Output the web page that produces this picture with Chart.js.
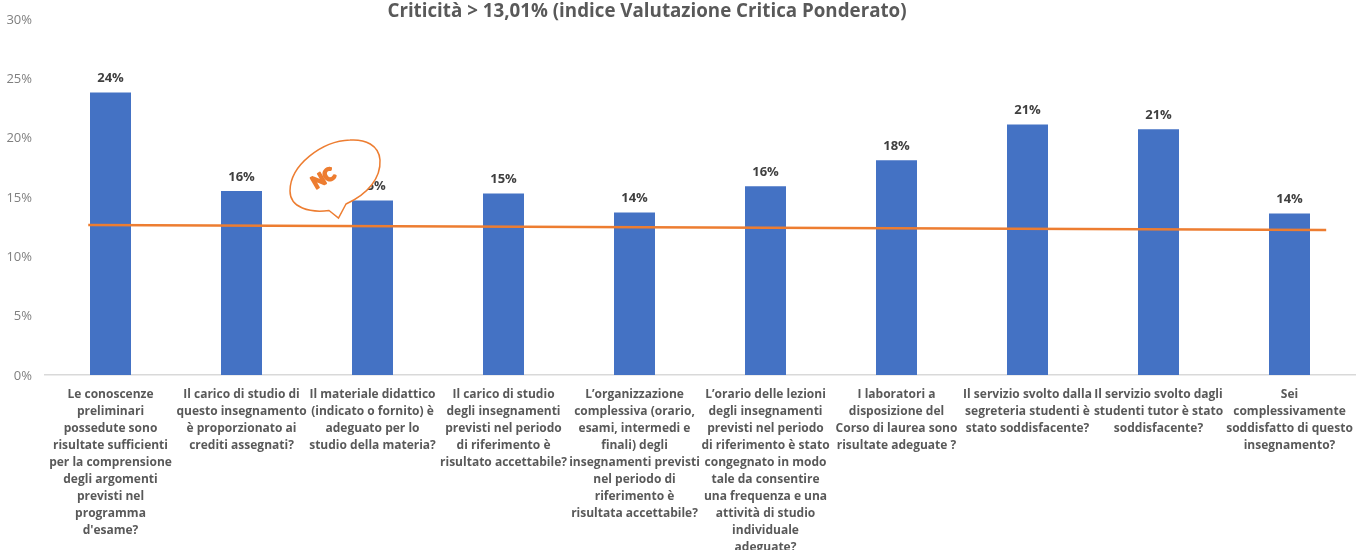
<!DOCTYPE html>
<html><head><meta charset="utf-8">
<style>html,body{margin:0;padding:0;background:#fff;overflow:hidden}canvas{display:block}</style>
<script src="https://cdn.jsdelivr.net/npm/chart.js@4"></script>
</head><body><canvas id="c" width="1356" height="550"></canvas>
<script>
const titleText = "Criticità > 13,01% (indice Valutazione Critica Ponderato)";
const categories = [
 ["Le conoscenze","preliminari","possedute sono","risultate sufficienti","per la comprensione","degli argomenti","previsti nel","programma","d'esame?"],
 ["Il carico di studio di","questo insegnamento","è proporzionato ai","crediti assegnati?"],
 ["Il materiale didattico","(indicato o fornito) è","adeguato per lo","studio della materia?"],
 ["Il carico di studio","degli insegnamenti","previsti nel periodo","di riferimento è","risultato accettabile?"],
 ["L’organizzazione","complessiva (orario,","esami, intermedi e","finali) degli","insegnamenti previsti","nel periodo di","riferimento è","risultata accettabile?"],
 ["L’orario delle lezioni","degli insegnamenti","previsti nel periodo","di riferimento è stato","congegnato in modo","tale da consentire","una frequenza e una","attività di studio","individuale","adeguate?"],
 ["I laboratori a","disposizione del","Corso di laurea sono","risultate adeguate ?"],
 ["Il servizio svolto dalla","segreteria studenti è","stato soddisfacente?"],
 ["Il servizio svolto dagli","studenti tutor è stato","soddisfacente?"],
 ["Sei","complessivamente","soddisfatto di questo","insegnamento?"]
];
const barValues = [23.8,15.5,14.7,15.3,13.7,15.9,18.1,21.1,20.7,13.6];
const barLabels = ["24%","16%","15%","15%","14%","16%","18%","21%","21%","14%"];
const lineX = [-0.17,9.28];
const lineY = [12.63,12.22];
const yTicks = [0,5,10,15,20,25,30];

const labelPlugin = {
  id:'barLabels',
  afterDatasetsDraw(chart){
    const ctx=chart.ctx, meta=chart.getDatasetMeta(0);
    ctx.save();
    ctx.font='bold 13px "Open Sans"';
    ctx.fillStyle='#404040';
    ctx.textAlign='center';ctx.textBaseline='middle';
    meta.data.forEach((b,i)=>ctx.fillText(barLabels[i],b.x,b.y-14));
    ctx.restore();
  }
};
const calloutPlugin = {
  id:'callout',
  afterDraw(chart){
    const ctx=chart.ctx;
    ctx.save();
    ctx.strokeStyle='#ED7D31';ctx.lineWidth=1.5;ctx.fillStyle='#fff';
    ctx.beginPath();
    ctx.moveTo(329,210.5);
    ctx.lineTo(338.5,218);
    ctx.lineTo(346,204);
    ctx.bezierCurveTo(368,194,381,178,380,160);
    ctx.bezierCurveTo(379,145,365,139,350,140);
    ctx.bezierCurveTo(322,141,290,165,290,191);
    ctx.bezierCurveTo(290,208,310,213,329,210.5);
    ctx.closePath();
    ctx.fill();ctx.stroke();
    ctx.translate(323.5,178.5);ctx.rotate(-30*Math.PI/180);
    ctx.font='900 17px Lato';
    ctx.textAlign='center';ctx.textBaseline='middle';
    ctx.fillStyle='#ED7D31';ctx.strokeStyle='#ED7D31';ctx.lineWidth=2;ctx.lineJoin='round';
    ctx.strokeText('NC',0,0);ctx.fillText('NC',0,0);
    ctx.restore();
  }
};
const titlePlugin = {
  id:'titleShift',
  afterLayout(chart){ if(chart.titleBlock){chart.titleBlock.left=0;chart.titleBlock.right=1294;} }
};

new Chart(document.getElementById('c'),{
  data:{
    labels:categories,
    datasets:[
      {type:'bar',order:1,grouped:false,data:barValues,xAxisID:'x',yAxisID:'y',backgroundColor:'#4472C4',
       categoryPercentage:1,barPercentage:41/131},
      {type:'line',order:0,data:lineX.map((x,i)=>({x,y:lineY[i]})),xAxisID:'x2',yAxisID:'y',
       borderColor:'#ED7D31',borderWidth:2.5,pointRadius:0,tension:0,fill:false}
    ]
  },
  options:{
    responsive:false,animation:false,
    layout:{padding:{top:0,right:1,bottom:0,left:0}},
    plugins:{
      legend:{display:false},tooltip:{enabled:false},
      title:{display:true,text:titleText,color:'#595959',align:'center',
        font:{family:'"Open Sans"',size:18.75,weight:'bold',lineHeight:'15px'},padding:{top:4,bottom:0}}
    },
    scales:{
      x:{type:'category',offset:true,position:'bottom',
         grid:{display:false,drawTicks:false},border:{display:true,color:'#D9D9D9',width:1.5},
         afterFit(s){s.height=175;s.paddingLeft=0;s.paddingRight=0;},
         ticks:{autoSkip:false,maxRotation:0,minRotation:0,padding:11,color:'#595959',
           font:{family:'"Open Sans"',size:12,weight:'bold',lineHeight:'17px'}}},
      x2:{type:'linear',display:false,min:-0.5,max:9.5},
      y:{min:0,max:30,position:'left',
         grid:{display:false,drawTicks:false},border:{display:false},
         afterFit(s){s.width=45;s.paddingTop=0;s.paddingBottom=0;},
         afterBuildTicks(s){s.ticks=yTicks.map(v=>({value:v}));},
         ticks:{padding:13,labelOffset:1,color:'#7F7F7F',font:{family:'"Open Sans"',size:13},callback:v=>v+'%'}}
    }
  },
  plugins:[labelPlugin,calloutPlugin,titlePlugin]
});
</script></body></html>
